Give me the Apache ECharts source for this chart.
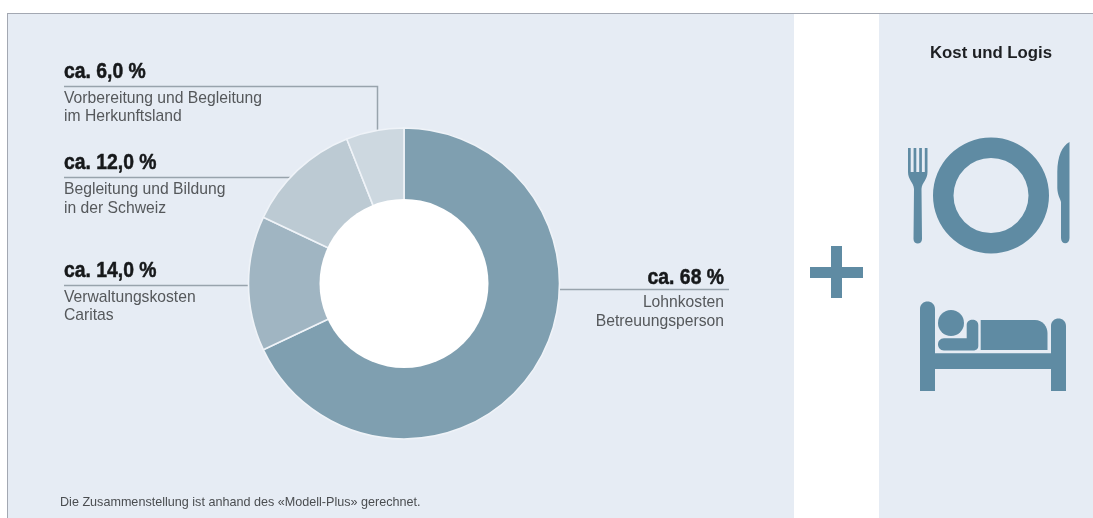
<!DOCTYPE html>
<html lang="de">
<head>
<meta charset="utf-8">
<title>Kostenverteilung</title>
<style>
  html, body { margin: 0; padding: 0; background: #fff; }
  #chart { width: 1093px; height: 518px; }
</style>
<script src="https://cdn.jsdelivr.net/npm/echarts@6/dist/echarts.min.js"></script>
</head>
<body>
<div id="chart"></div>
<script>
// Kostenanteile, im Uhrzeigersinn ab 12 Uhr
const categories = ['Lohnkosten Betreuungsperson', 'Verwaltungskosten Caritas', 'Begleitung und Bildung in der Schweiz', 'Vorbereitung und Begleitung im Herkunftsland'];
const values = [68, 14, 12, 6];
const headings = ['ca. 68 %', 'ca. 14,0 %', 'ca. 12,0 %', 'ca. 6,0 %'];
const descriptions = [
  ['Lohnkosten', 'Betreuungsperson'],
  ['Verwaltungskosten', 'Caritas'],
  ['Begleitung und Bildung', 'in der Schweiz'],
  ['Vorbereitung und Begleitung', 'im Herkunftsland']
];
const sliceColors = ['#7f9fb0', '#a0b5c2', '#bccad3', '#cdd8e0'];
const footnote = 'Die Zusammenstellung ist anhand des «Modell-Plus» gerechnet.';
const sideTitle = 'Kost und Logis';

const PANEL = '#e6ecf4';
const ICON = '#5f8ba3';
const RULE = '#98a3ac';
const FONT = '"Liberation Sans", Arial, sans-serif';

// Piktogramme als eigene Formen
const iconPaths = {
  fork: 'M908 148 L910.7 148 L910.7 172 L913.6 172 L913.6 148 L916.3 148 L916.3 172 L919.2 172 L919.2 148 L921.9 148 L921.9 172 L924.8 172 L924.8 148 L927.5 148 L927.5 172 C927.5 180 922 182 921.5 189 L922 239 C922 245 913.5 245 913.5 239 L914 189 C913.5 182 908 180 908 172 Z',
  knife: 'M1069.5 142 L1069.5 238 C1069.5 245 1061 245 1061 238 L1061 202 C1060 198 1057.5 195 1057.3 188 L1057.3 172 C1057.5 156 1062 146 1069.5 142 Z',
  bedFrame: 'M920 391 L920 309 C920 299 935 299 935 309 L935 353.3 L1051 353.3 L1051 326 C1051 316 1066 316 1066 326 L1066 391 L1051 391 L1051 369 L935 369 L935 391 Z',
  sleeperArm: 'M944 338.3 L966.7 338.3 L966.7 325 C966.7 318 978.3 318 978.3 325 L978.3 346 C978.3 349 976 350.5 973 350.5 L944 350.5 C936 350.5 936 338.3 944 338.3 Z',
  sleeperBody: 'M980.7 320 L1035 320 C1043 320 1047.5 327 1047.5 333 L1047.5 350 L980.7 350 Z'
};
Object.keys(iconPaths).forEach(name => {
  echarts.graphic.registerShape(name, echarts.graphic.extendPath(iconPaths[name]));
});

// Platz der Beschriftungen: Textkante, Zeilenmitten und Führungslinie je Segment
const callouts = [
  { x: 724, align: 'right', head: 278, lines: [303, 322], rule: [[559, 289.5], [729, 289.5]] },
  { x: 64, align: 'left', head: 271, lines: [298, 316], rule: [[64, 285.5], [250, 285.5]] },
  { x: 64, align: 'left', head: 163, lines: [190, 209], rule: [[64, 177.5], [290, 177.5]] },
  { x: 64, align: 'left', head: 72, lines: [99, 117], rule: [[64, 86.5], [377.5, 86.5], [377.5, 130]] }
];

function text(x, y, str, font, fill, align) {
  return { type: 'text', z: 5, style: { x, y, text: str, font, fill, align: align || 'left', verticalAlign: 'middle' } };
}

// Schmal laufende, kräftige Überschrift: horizontal gestaucht um die Textkante
function heading(x, y, str, align) {
  return {
    type: 'text', z: 5, x, y, scaleX: 0.88,
    style: { x: 0, y: 0, text: str, font: 'bold 22px ' + FONT, fill: '#16181a', stroke: '#16181a', lineWidth: 0.5, align, verticalAlign: 'middle' }
  };
}

const graphics = [
  // Flächen
  { type: 'rect', z: -2, shape: { x: 7, y: 13, width: 787, height: 505 }, style: { fill: PANEL } },
  { type: 'rect', z: -2, shape: { x: 879, y: 13, width: 214, height: 505 }, style: { fill: PANEL } },
  { type: 'rect', z: -1, shape: { x: 7, y: 13, width: 1086, height: 1 }, style: { fill: '#a3a8b2' } },
  { type: 'rect', z: -1, shape: { x: 7, y: 13, width: 1, height: 505 }, style: { fill: '#a3a8b2' } },

  // Pluszeichen
  { type: 'rect', z: 3, shape: { x: 810, y: 267, width: 53, height: 11 }, style: { fill: ICON } },
  { type: 'rect', z: 3, shape: { x: 831, y: 246, width: 11, height: 52 }, style: { fill: ICON } },

  // Gedeck und Bett
  { type: 'ring', z: 3, shape: { cx: 991, cy: 195.5, r: 58, r0: 37.5 }, style: { fill: ICON } },
  { type: 'fork', z: 3, style: { fill: ICON } },
  { type: 'knife', z: 3, style: { fill: ICON } },
  { type: 'bedFrame', z: 3, style: { fill: ICON } },
  { type: 'circle', z: 3, shape: { cx: 951, cy: 323, r: 13 }, style: { fill: ICON } },
  { type: 'sleeperArm', z: 3, style: { fill: ICON } },
  { type: 'sleeperBody', z: 3, style: { fill: ICON } },

  text(991, 53, sideTitle, 'bold 16.8px ' + FONT, '#1d1f22', 'center'),
  text(60, 503, footnote, '12.6px ' + FONT, '#4a4d50')
];

callouts.forEach((c, i) => {
  graphics.push({ type: 'polyline', z: 1, shape: { points: c.rule }, style: { stroke: RULE, lineWidth: 1.5, fill: null } });
  graphics.push(heading(c.x, c.head, headings[i], c.align));
  descriptions[i].forEach((line, k) => {
    graphics.push(text(c.x, c.lines[k], line, '15.7px ' + FONT, '#55585b', c.align));
  });
});

const chart = echarts.init(document.getElementById('chart'), null, { renderer: 'canvas' });
chart.setOption({
  animation: false,
  backgroundColor: '#ffffff',
  graphic: { elements: graphics },
  series: [
    {
      type: 'pie', z: 2,
      center: [404, 283.5], radius: [80, 155.5],
      startAngle: 90, clockwise: true,
      label: { show: false }, labelLine: { show: false },
      itemStyle: { borderColor: '#eff3f8', borderWidth: 1.6 },
      data: categories.map((name, i) => ({ name, value: values[i], itemStyle: { color: sliceColors[i] } }))
    },
    {
      // weisse Fläche im Ring, deckt die innere Kante der Segmente ab
      type: 'pie', silent: true, z: 3,
      center: [404, 283.5], radius: [0, 84.5],
      label: { show: false }, labelLine: { show: false },
      data: [{ value: 1, itemStyle: { color: '#ffffff' } }]
    }
  ]
});
</script>
</body>
</html>
